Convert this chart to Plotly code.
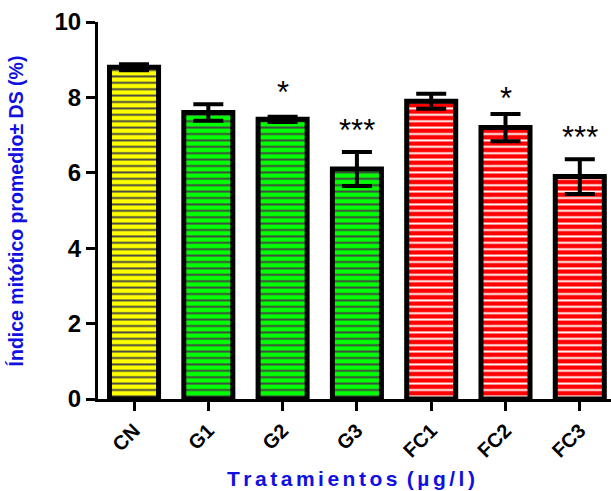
import plotly.graph_objects as go

categories = ["CN", "G1", "G2", "G3", "FC1", "FC2", "FC3"]
values = [8.80, 7.60, 7.42, 6.10, 7.90, 7.20, 5.90]
errors = [0.08, 0.22, 0.07, 0.45, 0.20, 0.36, 0.46]
colors = ["#FFFF00", "#00FF00", "#00FF00", "#00FF00", "#FF0000", "#FF0000", "#FF0000"]
signif = ["", "", "*", "***", "", "*", "***"]
signif_shift = [0, 0, 24, 22, 0, 15, 22]

xpos = list(range(len(categories)))
FONT = "Liberation Sans, Arial, sans-serif"

fig = go.Figure()
fig.add_trace(go.Bar(
    x=xpos, y=values, width=0.66,
    marker=dict(color=colors, line=dict(color="black", width=5),
                pattern=dict(shape="-", fgcolor="black", fgopacity=1,
                             size=6.4, solidity=0.3, fillmode="overlay")),
    error_y=dict(type="data", array=errors, visible=True, color="black",
                 thickness=4, width=15),
    showlegend=False,
))

for x, v, e, s, sh in zip(xpos, values, errors, signif, signif_shift):
    if s:
        fig.add_annotation(x=x, y=v + e, text=s, showarrow=False, yanchor="middle",
                           yshift=sh, font=dict(family=FONT, size=31, color="black"))

fig.update_layout(
    width=611, height=491,
    margin=dict(l=98, r=0, t=22, b=92),
    plot_bgcolor="white", paper_bgcolor="white",
)
fig.update_xaxes(
    range=[-0.485, 6.42], tickmode="array", tickvals=xpos, ticktext=categories,
    tickangle=-45, ticks="outside", ticklen=9, tickwidth=3, tickcolor="black",
    showline=True, linecolor="black", linewidth=3, showgrid=False, zeroline=False,
    tickfont=dict(family=FONT, size=20, color="black", weight="bold"),
)
fig.update_yaxes(
    range=[0, 10], tickvals=[0, 2, 4, 6, 8, 10], ticks="outside", ticklen=9,
    tickwidth=3, tickcolor="black", showline=True, linecolor="black", linewidth=3,
    showgrid=False, zeroline=False,
    tickfont=dict(family=FONT, size=24, color="black", weight="bold"),
)

fig.add_annotation(xref="paper", yref="paper", x=-0.16, y=0.5, text="Índice mitótico promedio± DS (%)",
                   textangle=-90, showarrow=False, xanchor="center", yanchor="middle",
                   font=dict(family=FONT, size=19.5, color="#1010E0", weight="bold"))
sp = "\u200a\u200a"
title_x = sp.join("Tratamientos") + " " + sp + sp.join("(µg/l)")
fig.add_annotation(xref="paper", yref="paper", x=0.493, y=-0.21, yanchor="middle",
                   text=title_x, showarrow=False,
                   font=dict(family=FONT, size=21, color="#1010E0", weight="bold"))

fig.write_html("out.html")
